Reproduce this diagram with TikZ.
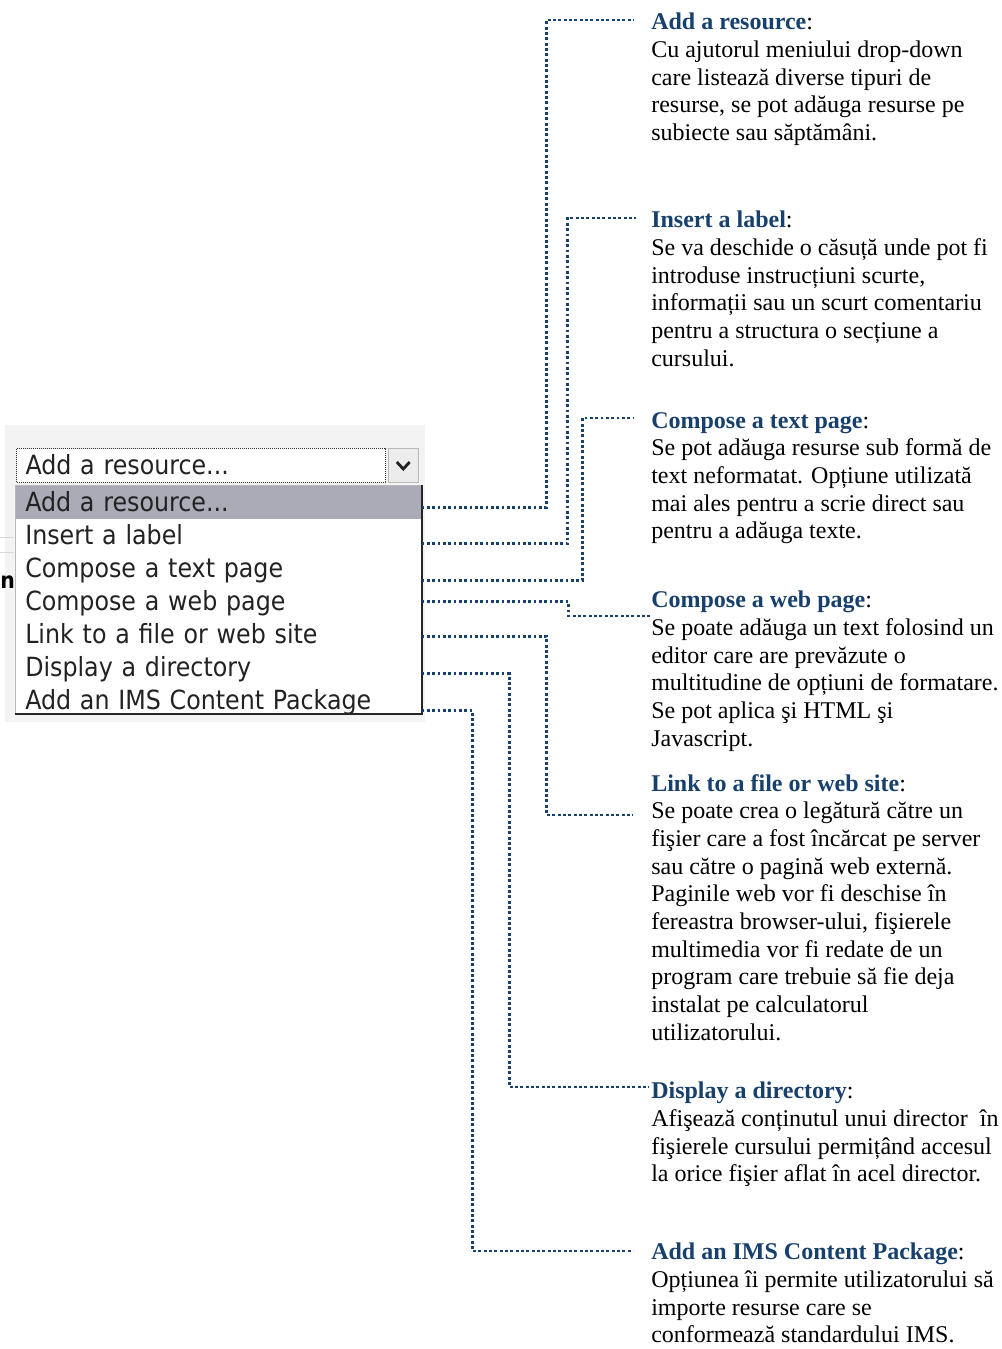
\documentclass[tikz,border=0pt]{standalone}
\usepackage{fontspec}
\setmainfont{Liberation Serif}
\newfontfamily\uifont{DejaVu Sans Condensed}
\usepackage{tikz}
\usetikzlibrary{positioning}
\definecolor{moodleblue}{HTML}{17406D}
\definecolor{menuhl}{HTML}{AAABB7}
\definecolor{menutext}{HTML}{222222}
\definecolor{panelgray}{HTML}{F3F3F3}

\newcommand{\dhead}[1]{{\bfseries\color{moodleblue}#1}}

\tikzset{
  menuitem/.style={inner xsep=6.75pt, inner ysep=0pt, text width=290.25pt,
    align=left, text height=16pt, text depth=2pt, minimum height=24.3pt,
    text=menutext, font=\uifont\fontsize{19.8}{23}\selectfont},
  menucombo/.style={menuitem, text width=263.25pt, minimum height=25.5pt,
    draw=black!80, fill=white, line width=0.75pt, dash pattern=on 0.75pt off 0.75pt},
  desc/.style={anchor=north west, inner sep=0pt, align=left,
    font=\fontsize{18}{20.75}\selectfont, execute at begin node=\rule{0pt}{15pt}},
  link/.style={moodleblue, line width=2.2pt, dash pattern=on 2.2pt off 1.8pt}
}

\begin{document}
\begin{tikzpicture}[x=0.75pt, y=-0.75pt]
  \useasboundingbox (0,0) rectangle (1002,1349);

  % ══ DROP-DOWN WIDGET ═════════════════════════════════════════
  \fill[panelgray] (5,425) rectangle (425,722);
  \draw[gray!30, line width=0.75pt] (0,537) -- (14,537);
  \draw[gray!30, line width=0.75pt] (0,552) -- (14,552);
  \node[inner sep=0pt, anchor=west, font=\uifont\bfseries\fontsize{17}{20}\selectfont] (cutoff) at (0,582) {n};

  \node[menucombo, anchor=north west] (mcombo) at (16,448) {Add a resource...};
  \node[draw=gray!55, fill=gray!15, minimum width=22.5pt, minimum height=25.5pt,
        inner sep=0pt, right=1.5pt of mcombo] (mbtn) {};
  \draw[menutext, line width=2.1pt]
    ([xshift=-4.8pt, yshift=2.6pt]mbtn.center) -- ([yshift=-2.6pt]mbtn.center)
    -- ([xshift=4.8pt, yshift=2.6pt]mbtn.center);

  \fill[white] (15,485) rectangle (422,714);
  \node[menuitem, fill=menuhl, anchor=north west] (mres) at (16,486) {Add a resource...};
  \node[menuitem, below=0pt of mres]   (mlabel) {Insert a label};
  \node[menuitem, below=0pt of mlabel] (mtext)  {Compose a text page};
  \node[menuitem, below=0pt of mtext]  (mweb)   {Compose a web page};
  \node[menuitem, below=0pt of mweb]   (mlink)  {Link to a file or web site};
  \node[menuitem, below=0pt of mlink]  (mdir)   {Display a directory};
  \node[menuitem, below=0pt of mdir]   (mims)   {Add an IMS Content Package};

  \draw[gray!55, line width=0.75pt] (15,714) -- (15,485) -- (422,485);
  \draw[black!85, line width=1.3pt] (422,485) -- (422,714) -- (15,714);

  % ══ DESCRIPTIONS ═════════════════════════════════════════════
  \node[desc] (dres) at (651,13)
    {\dhead{Add a resource}:\\
     Cu ajutorul meniului drop-down\\
     care listează diverse tipuri de\\
     resurse, se pot adăuga resurse pe\\
     subiecte sau săptămâni.};

  \node[desc] (dlabel) at (651,211)
    {\dhead{Insert a label}:\\
     Se va deschide o căsuță unde pot fi\\
     introduse instrucțiuni scurte,\\
     informații sau un scurt comentariu\\
     pentru a structura o secțiune a\\
     cursului.};

  \node[desc] (dtext) at (651,412)
    {\dhead{Compose a text page}:\\
     Se pot adăuga resurse sub formă de\\
     text neformatat. Opțiune utilizată\\
     mai ales pentru a scrie direct sau\\
     pentru a adăuga texte.};

  \node[desc] (dweb) at (651,591)
    {\dhead{Compose a web page}:\\
     Se poate adăuga un text folosind un\\
     editor care are prevăzute o\\
     multitudine de opțiuni de formatare.\\
     Se pot aplica şi HTML şi\\
     Javascript.};

  \node[desc] (dlink) at (651,774)
    {\dhead{Link to a file or web site}:\\
     Se poate crea o legătură către un\\
     fişier care a fost încărcat pe server\\
     sau către o pagină web externă.\\
     Paginile web vor fi deschise în\\
     fereastra browser-ului, fişierele\\
     multimedia vor fi redate de un\\
     program care trebuie să fie deja\\
     instalat pe calculatorul\\
     utilizatorului.};

  \node[desc] (ddir) at (651,1082)
    {\dhead{Display a directory}:\\
     Afişează conținutul unui director\ \ în\\
     fişierele cursului permițând accesul\\
     la orice fişier aflat în acel director.};

  \node[desc] (dims) at (651,1243)
    {\dhead{Add an IMS Content Package}:\\
     Opțiunea îi permite utilizatorului să\\
     importe resurse care se\\
     conformează standardului IMS.};

  % ══ CONNECTORS ═══════════════════════════════════════════════
  \draw[link] ([yshift=-3.6pt]mres.east) -- ++(125,0)
    |- ([xshift=-13.5pt, yshift=-5.25pt]dres.north west);
  \draw[link] ([yshift=-6.3pt]mlabel.east) -- ++(146,0)
    |- ([xshift=-11.25pt, yshift=-5.25pt]dlabel.north west);
  \draw[link] ([yshift=-9pt]mtext.east) -- ++(161,0)
    |- ([xshift=-13.5pt, yshift=-4.5pt]dtext.north west);
  \draw[link] ([yshift=-0.45pt]mweb.east) -- ++(147,0)
    |- ([xshift=-0.75pt, yshift=-18.75pt]dweb.north west);
  \draw[link] ([yshift=-1.65pt]mlink.east) -- ++(125,0)
    |- ([xshift=-13.5pt, yshift=-30.75pt]dlink.north west);
  \draw[link] ([yshift=-5.1pt]mdir.east) -- ++(88,0)
    |- ([xshift=-1.5pt, yshift=-3.75pt]ddir.north west);
  \draw[link] ([yshift=-7.8pt]mims.east) -- ++(51,0)
    |- ([xshift=-13.5pt, yshift=-6pt]dims.north west);

\end{tikzpicture}
\end{document}
